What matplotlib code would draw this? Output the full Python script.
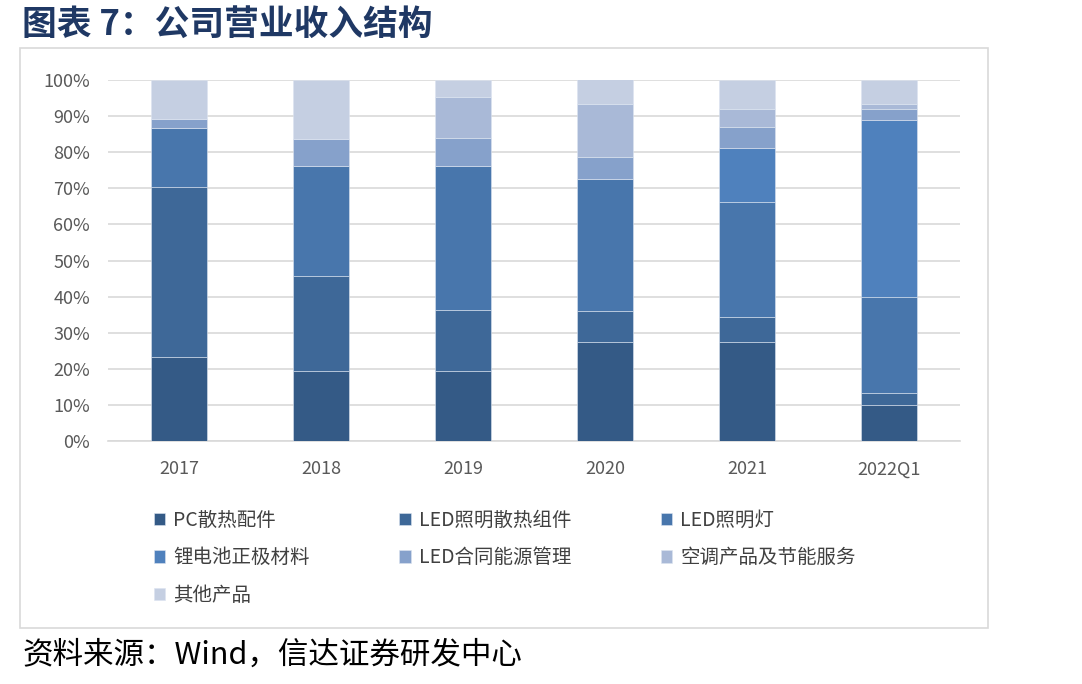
import matplotlib
matplotlib.use('Agg')
import matplotlib.pyplot as plt
from matplotlib.patches import Rectangle
import numpy as np

plt.rcParams['font.family'] = ['Noto Sans CJK SC', 'DejaVu Sans']

# Data (share of revenue, %)
years = ['2017', '2018', '2019', '2020', '2021', '2022Q1']
series_names = ['PC散热配件', 'LED照明散热组件', 'LED照明灯', '锂电池正极材料',
                'LED合同能源管理', '空调产品及节能服务', '其他产品']
pc_parts = [23.4, 19.4, 19.5, 27.3, 27.3, 10.0]
led_heat = [46.9, 26.4, 16.8, 8.7, 7.1, 3.4]
led_lamp = [16.5, 30.3, 39.8, 36.6, 31.8, 26.6]
lithium = [0.0, 0.0, 0.0, 0.0, 14.9, 48.9]
led_emc = [2.4, 7.5, 7.8, 6.0, 6.0, 3.2]
aircon = [0.0, 0.0, 11.5, 14.7, 4.8, 1.2]
others = [10.8, 16.4, 4.6, 7.4, 8.1, 6.7]

series_values = [pc_parts, led_heat, led_lamp, lithium, led_emc, aircon, others]
colors = ['#345a86', '#3e6898', '#4876ac', '#4f81bd', '#86a1cb', '#a9b9d7', '#c5cfe2']

fig = plt.figure(figsize=(10.82, 6.84), dpi=100)
ax = fig.add_axes([108 / 1082, 1 - 441 / 684, 852 / 1082, 361 / 684])

x = np.arange(len(years))
bottom = np.zeros(len(years))
handles = []
for name, vals, c in zip(series_names, series_values, colors):
    vals = np.array(vals)
    b = ax.bar(x, vals, width=0.4, bottom=bottom, color=c, label=name,
               edgecolor='#dce4f0', linewidth=0.4, zorder=3)
    handles.append(b)
    bottom += vals

ax.set_xlim(-0.5, len(years) - 0.5)
ax.set_ylim(0, 100)
ax.set_yticks(np.arange(0, 101, 10))
ax.set_yticklabels([f'{v}%' for v in range(0, 101, 10)])
ax.set_xticks(x)
ax.set_xticklabels(years)
ax.grid(axis='y', color='#d9d9d9', linewidth=1.2, zorder=0)
for s in ['top', 'right', 'left']:
    ax.spines[s].set_visible(False)
ax.spines['bottom'].set_color('#d9d9d9')
ax.spines['bottom'].set_linewidth(1.2)
ax.tick_params(axis='both', length=0, labelsize=13, colors='#595959')
ax.tick_params(axis='y', pad=13)
ax.tick_params(axis='x', pad=14)

# Legend laid out row-wise in 3 columns (matplotlib fills column-wise)
order = [0, 3, 6, 1, 4, 2, 5]
fig.legend([handles[i] for i in order], [series_names[i] for i in order],
           ncol=3, loc='upper left', bbox_to_anchor=(146 / 1082, 1 - 502 / 684),
           frameon=False, fontsize=14, labelcolor='#404040',
           handlelength=0.6, handleheight=0.6, handletextpad=0.4,
           columnspacing=4.6, labelspacing=0.85, borderaxespad=0)

# Outer frame
fig.patches.append(Rectangle((20 / 1082, 1 - 628 / 684), 968 / 1082, 580 / 684,
                             transform=fig.transFigure, fill=False,
                             edgecolor='#d9d9d9', linewidth=1.2))

fig.text(22 / 1082, 1 - 24 / 684, '图表 7：公司营业收入结构', fontsize=25,
         fontweight='bold', color='#1f3864', va='center', ha='left')
fig.text(22 / 1082, 1 - 655 / 684, '资料来源：Wind，信达证券研发中心', fontsize=22,
         style='italic', color='black', va='center', ha='left')

fig.savefig('out.png', dpi=100)
